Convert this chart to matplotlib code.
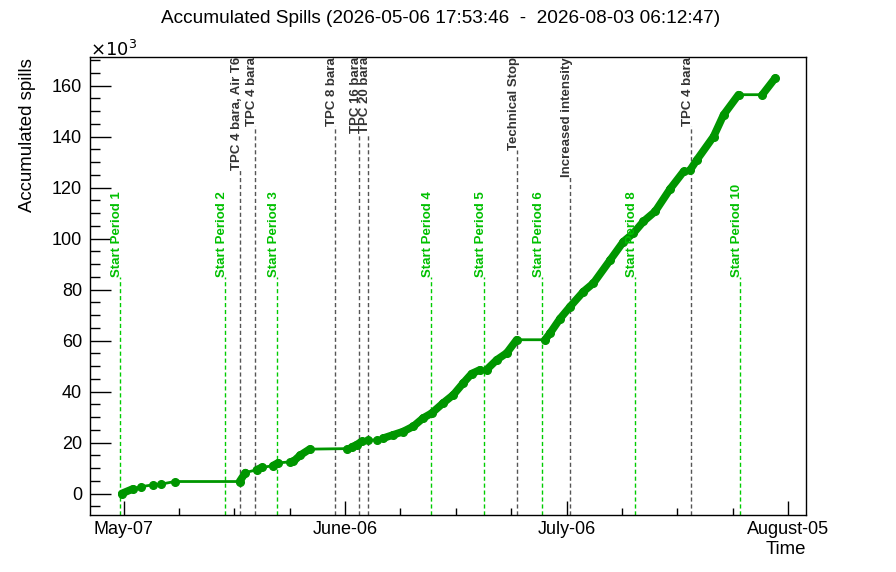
import numpy as np
import matplotlib
matplotlib.use("Agg")
import matplotlib.pyplot as plt
import matplotlib.dates as mdates
from matplotlib.ticker import AutoMinorLocator, MultipleLocator

plt.rcParams['font.family'] = ['Liberation Sans', 'DejaVu Sans']

# accumulated spills (x1000)
times = ["2026-05-06 17:54", "2026-05-08 06:00", "2026-05-09 10:00", "2026-05-10 23:00",
         "2026-05-12 03:00", "2026-05-13 22:00", "2026-05-22 17:00", "2026-05-23 12:00",
         "2026-05-25 00:00", "2026-05-25 17:00", "2026-05-27 05:00", "2026-05-27 22:00",
         "2026-05-29 12:00", "2026-05-30 00:00", "2026-05-30 22:00", "2026-06-01 05:00",
         "2026-06-06 05:00", "2026-06-06 21:00", "2026-06-07 13:30", "2026-06-08 05:30",
         "2026-06-09 03:00", "2026-06-10 06:30", "2026-06-11 04:00", "2026-06-12 12:30",
         "2026-06-13 21:00", "2026-06-15 05:30", "2026-06-16 14:00", "2026-06-17 17:30",
         "2026-06-19 07:00", "2026-06-20 16:00", "2026-06-22 00:00", "2026-06-23 03:30",
         "2026-06-24 06:30", "2026-06-25 04:30", "2026-06-26 13:00", "2026-06-27 21:30",
         "2026-06-29 06:00", "2026-07-03 02:00", "2026-07-03 18:30", "2026-07-05 03:00",
         "2026-07-06 11:30", "2026-07-08 07:00", "2026-07-09 15:30", "2026-07-11 22:00",
         "2026-07-13 17:00", "2026-07-15 01:30", "2026-07-16 10:00", "2026-07-18 00:00",
         "2026-07-20 01:00", "2026-07-21 20:30", "2026-07-22 18:00", "2026-07-23 16:00",
         "2026-07-25 22:00", "2026-07-27 06:30", "2026-07-29 07:00", "2026-08-01 12:30",
         "2026-08-03 06:13"]
spills = [0.0, 1.8, 2.7, 3.4, 3.7, 4.7, 4.7, 8.2,
          9.3, 10.2, 10.9, 12.0, 12.4, 12.6, 15.0, 17.4,
          17.6, 18.2, 19.1, 20.4, 20.8, 21.1, 21.7, 23.0,
          24.3, 26.3, 29.6, 31.5, 35.5, 38.7, 43.3, 47.0,
          48.5, 48.6, 52.4, 55.1, 60.3, 60.3, 62.9, 68.6,
          73.3, 79.2, 82.5, 91.6, 98.8, 102.1, 106.7, 110.6,
          119.5, 126.3, 126.9, 130.9, 140.0, 148.5, 156.4, 156.4,
          162.9]

# run markers
period_times = ["2026-05-06 12:00", "2026-05-20 18:00", "2026-05-27 19:00", "2026-06-17 16:00",
                "2026-06-24 21:00", "2026-07-02 17:30", "2026-07-15 05:00", "2026-07-29 10:30"]
period_labels = ["Start Period 1", "Start Period 2", "Start Period 3", "Start Period 4",
                 "Start Period 5", "Start Period 6", "Start Period 8", "Start Period 10"]
event_times = ["2026-05-22 18:30", "2026-05-24 19:30", "2026-06-04 15:30", "2026-06-07 22:00",
               "2026-06-09 03:00", "2026-06-29 08:00", "2026-07-06 12:30", "2026-07-22 19:00"]
event_labels = ["TPC 4 bara, Air T6", "TPC 4 bara", "TPC 8 bara", "TPC 16 bara",
                "TPC 20 bara", "Technical Stop", "Increased intensity", "TPC 4 bara"]

tick_dates = ["2026-05-07", "2026-06-06", "2026-07-06", "2026-08-05"]
tick_labels = ["May-07", "June-06", "July-06", "August-05"]

t = mdates.date2num(np.array(times, dtype="datetime64[m]"))
y = np.array(spills)
tp = mdates.date2num(np.array(period_times, dtype="datetime64[m]"))
te = mdates.date2num(np.array(event_times, dtype="datetime64[m]"))

fig = plt.figure(figsize=(8.96, 5.72), dpi=100)
ax = fig.add_axes([0.1, 0.1, 0.8, 0.8])

ymin, ymax = -8.35, 171.1
xmin = mdates.date2num(np.datetime64("2026-05-02 09:20"))
xmax = mdates.date2num(np.datetime64("2026-08-07 11:45"))
ax.set_xlim(xmin, xmax)
ax.set_ylim(ymin, ymax)

green = "#009600"
# thin line everywhere, thick band where spills come in densely
ax.plot(t, y, color=green, lw=2.0, zorder=3)
rate = np.diff(y) / np.diff(t)
for i in np.where(rate > 0.9)[0]:
    ax.plot(t[i:i + 2], y[i:i + 2], color=green, lw=5.5, solid_capstyle="round", zorder=3)
ax.plot(t, y, "o", color=green, ms=5.5, mec=green, zorder=4)

# start of periods
lab_y = 85.1
for x, lab in zip(tp, period_labels):
    ax.plot([x, x], [ymin, lab_y], color="#00cc00", lw=1.0, ls=(0, (3, 2)), zorder=2)
    ax.text(x, lab_y, lab, rotation=90, rotation_mode="anchor", ha="left", va="baseline",
            color="#00c000", fontsize=9.5, fontweight="bold", zorder=5)

# other events, line stops where the label begins
ev_texts = []
for x, lab in zip(te, event_labels):
    ev_texts.append(ax.text(x, ymax, lab, rotation=90, rotation_mode="anchor", ha="right",
                            va="baseline", color="#333333", fontsize=9.5,
                            fontweight="bold", zorder=5))
fig.canvas.draw()
inv = ax.transData.inverted()
for x, txt in zip(te, ev_texts):
    bb = txt.get_window_extent()
    ytop = inv.transform((bb.x0, bb.y0))[1]
    ax.plot([x, x], [ymin, ytop], color="#555555", lw=1.0, ls=(0, (3, 2)), zorder=1)

ax.set_xticks(mdates.date2num(np.array(tick_dates, dtype="datetime64[D]")))
ax.set_xticklabels(tick_labels)
ax.xaxis.set_minor_locator(AutoMinorLocator(4))
ax.yaxis.set_major_locator(MultipleLocator(20))
ax.yaxis.set_minor_locator(MultipleLocator(5))

ax.tick_params(axis="both", which="both", direction="in", top=False, right=False,
               labelsize=13, width=1)
ax.tick_params(axis="x", which="major", length=10, pad=4.5)
ax.tick_params(axis="x", which="minor", length=5)
ax.tick_params(axis="y", which="major", length=15, pad=5.5)
ax.tick_params(axis="y", which="minor", length=7.5)
for s in ax.spines.values():
    s.set_linewidth(1)

fig.text(0.492, 0.967, "Accumulated Spills (2026-05-06 17:53:46  -  2026-08-03 06:12:47)",
         ha="center", va="center", fontsize=13.7)
fig.text(28 / 896, 0.899, "Accumulated spills", rotation=90, ha="center", va="top", fontsize=13.4)
fig.text(0.8996, 1 - 549 / 572, "Time", ha="right", va="center", fontsize=13.4)
fig.text(0.1, 1 - 50 / 572, r"$\times10^{3}$", ha="left", va="center", fontsize=13)

fig.savefig("out.png", dpi=100)
